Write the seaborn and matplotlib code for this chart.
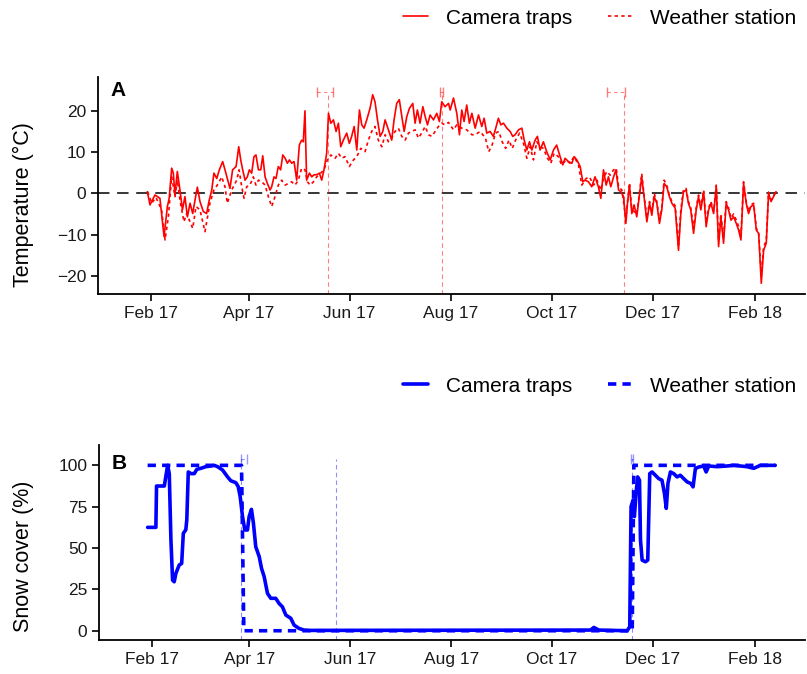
import pandas as pd
import numpy as np
import matplotlib
matplotlib.use('Agg')
import matplotlib.pyplot as plt
import seaborn as sns

# ============================================================================
# DATA (days since 2017-02-01)
# ============================================================================

cam_day = [-2.2, -0.6, 2.4, 5.4, 7.9, 9.9, 11, 12.5, 13.5, 14.5,
           15.9, 17.5, 19, 20.5, 22, 23.6, 25.2, 26.6, 28, 29.6,
           31.6, 33.6, 35.2, 36.7, 38, 39.7, 41.3, 43.3, 44.7, 46.1,
           47.7, 49.3, 51.4, 53, 54.2, 55.4, 56.8, 58.2, 59.4, 60.8,
           62.2, 63.4, 64.9, 66.3, 67.5, 68.9, 70.3, 71.9, 72.9, 74.3,
           75.5, 76.9, 78.3, 79.6, 81, 82.4, 83.6, 85, 86.4, 88,
           89.6, 91, 92, 93, 94, 95.7, 97.1, 98.5, 100.1, 101.7,
           103.1, 104.5, 106.1, 107.2, 108.6, 110.2, 111.8, 113.2, 114.6, 116.2,
           118.2, 119.8, 121.2, 122.7, 124.3, 125.9, 127.3, 128.7, 130.3, 132.3,
           133.9, 135.3, 136.8, 138.4, 140, 141.4, 143.4, 145.4, 146.8, 148.4,
           150, 151.5, 152.9, 154.5, 156.1, 158.1, 159.5, 160.9, 162.5, 164.2,
           165.6, 167, 168.6, 170.6, 172.6, 174.2, 175.6, 177.6, 179.7, 180.7,
           182.7, 184.7, 186.3, 187.7, 189.1, 190.7, 192.3, 193.8, 195.8, 197.8,
           199.8, 201.2, 202.8, 204.8, 206.8, 208.5, 209.8, 211.3, 212.9, 214.9,
           216.9, 218.5, 219.9, 222, 224, 225.4, 227, 228.6, 230, 232,
           233.4, 235, 237, 239, 241.1, 243.1, 245, 247.1, 248.7, 250.1,
           252.1, 254.2, 255.6, 257.2, 259.2, 260.8, 262.2, 264.2, 266.2, 268.2,
           270.2, 271.7, 273.3, 274.9, 276.3, 277.7, 279.4, 280.8, 282.4, 283.8,
           285.4, 286.8, 287.8, 289, 290.4, 291.8, 293.4, 295, 296.4, 297.8,
           299.5, 301.1, 302.5, 303.9, 305.5, 307.1, 308.5, 309.9, 311.5, 313.1,
           314.6, 316.6, 318.6, 320, 321.6, 323.2, 324.6, 326, 327.7, 329.3,
           330.7, 332.1, 333.8, 335.3, 336.8, 338.2, 339.8, 341.4, 342.8, 344.2,
           345.8, 347.4, 348.8, 350.3, 351.9, 353.5, 354.9, 356.3, 357.9, 359.5,
           360.9, 362.3, 364, 365.6, 367, 368.6, 370, 371.6, 373, 374.5,
           376, 377.5]
cam_temp = [0.4, -2.8, -0.4, -1.2, -10.5, -3.2, -1.2, 6.1, 4.9, -0.4,
            5.3, 0.8, -4, -0.8, -5.7, -2.4, -4.9, -1.6, 1.5, -2,
            -4.4, -4.9, -1.6, 0.8, 4.9, 3.6, 5.7, 7.7, 5.7, 3.6,
            1.2, 5.7, 6.5, 11.3, 8.1, 5.7, 3.2, 4, 5.7, 4.9,
            8.9, 9.3, 5.7, 5.7, 9.1, 4, 2.4, 0.8, 1.6, 4,
            3.6, 6.5, 5.7, 9.3, 8.5, 7.3, 8.1, 7.3, 7.7, 3.2,
            11.7, 12.9, 12.5, 20, 3.2, 4.9, 4, 4.5, 4.5, 4.9,
            3.2, 5.7, 9.7, 19.4, 17, 17.8, 15, 17, 11.3, 12.9,
            14.6, 12.1, 13.8, 16.2, 10.5, 20.2, 16.6, 15.8, 17.8, 20.6,
            23.9, 22.2, 17.8, 13.8, 15, 17.8, 15.4, 12.9, 17.8, 21.8,
            22.7, 18.6, 15, 18.6, 20.6, 21.8, 17, 20.2, 17, 21,
            18.6, 16.6, 19, 17.8, 19.4, 17.4, 22.2, 21, 21.8, 20.2,
            23.1, 19.4, 14.2, 20.2, 17.4, 21.4, 17, 19.4, 15.8, 19,
            16.2, 18.2, 14.6, 15, 13.8, 16.2, 18.2, 16.6, 17, 15.8,
            15, 13.8, 14.2, 15.4, 15.8, 12.9, 10.5, 12.5, 10.5, 12.9,
            13.8, 10.5, 12.5, 10.1, 8.1, 10.5, 11.7, 8.9, 6.9, 8.5,
            7.7, 7.3, 8.9, 8.1, 6.5, 2.8, 3.2, 2.8, 1.6, 4,
            1.6, -1.2, 5.7, 2, 4, 1.6, 4, 5.7, 0.8, 0.4,
            -0.8, -7.3, -2.4, 2, -4.9, -2.8, -5.7, -0.4, 4, -0.8,
            -6.9, -2.4, -5.3, -0.8, -2.4, -7.3, -4, 2.4, 1.6, -0.8,
            -2.4, -3.6, -13.8, -4.9, 0.4, 0.8, -2.4, -4, -9.7, -4,
            -0.8, -4, 0.4, -8.1, -4, -2.4, -4.9, 1.6, -12.9, -5.7,
            -12.1, -2.4, -4, -6.5, -5.7, -7.3, -8.9, -11.3, 2.4, -2.4,
            -4.9, -3.2, -2.8, -8.9, -9.7, -21.8, -13.8, -12.1, 0, -2,
            -0.8, 0.4]

ws_day = [-2, 0.4, 3, 6.4, 8.5, 10.5, 12.5, 14.5, 15.9, 17.5,
          19.9, 21.5, 23.6, 25.2, 27.2, 29.6, 32.6, 35.6, 38, 40.7,
          42.7, 44.7, 46.1, 48.7, 51.8, 53.2, 54.8, 56.2, 57.8, 59.8,
          61.8, 63.4, 64.9, 66.9, 68.9, 70.9, 72.9, 74.9, 76.9, 78.9,
          81, 83, 85, 87, 89, 91, 93, 94.5, 96.1, 98.1,
          100.1, 102.5, 104.5, 106.5, 108.6, 111.2, 113.2, 115.2, 117.2, 119.8,
          122.3, 124.3, 126.7, 129.3, 131.3, 133.3, 135.3, 137.3, 139.4, 141.4,
          143.4, 145.4, 147.4, 149.4, 151.5, 153.5, 155.5, 157.5, 159.5, 161.5,
          163.5, 165.6, 167.6, 169.6, 171.6, 173.6, 175.6, 177.6, 179.7, 182.7,
          184.7, 187.7, 190.7, 193.8, 195.8, 198.8, 202, 204, 206, 208.1,
          210.1, 212.1, 214.2, 216.2, 218.2, 220.2, 222.6, 225, 227, 229,
          231, 233, 235, 237, 239.5, 241.5, 243.5, 246, 248, 250.7,
          253, 255.6, 258.2, 260.2, 262.8, 264.8, 267.3, 269.3, 271.7, 273.3,
          275.3, 277.3, 279.4, 281, 282.4, 284.4, 286.8, 289, 290.4, 293.4,
          295, 296.4, 297.8, 299.5, 301.1, 302.5, 303.9, 305.5, 307.1, 308.5,
          309.9, 311.5, 313.1, 314.6, 316.6, 318.6, 320, 321.6, 323.2, 324.6,
          326, 327.7, 329.3, 330.7, 332.1, 333.8, 335.3, 336.8, 338.2, 339.8,
          341.4, 342.8, 344.2, 345.8, 347.4, 348.8, 350.3, 351.9, 353.5, 354.9,
          356.3, 357.9, 359.5, 360.9, 362.3, 364, 365.6, 367, 368.6, 370,
          371.6, 373, 374.5, 376, 377.5]
ws_temp = [0.4, -2.4, -1, -4, -11.3, -5.7, 4, -0.8, 3.2, -1.6,
           -6.9, -4.9, -6.9, -8.5, -3.2, -4, -9.3, -2.4, 0.8, 2.4,
           4, 1.6, -2.4, 0.8, 3.2, 5.7, 1.6, -1.2, 1.6, 2,
           4, 2, 3.2, 2.8, 2, -0.8, -3.2, -0.8, 2, 3.2,
           2, 2.4, 2.8, 2, 3.2, 6.1, 5.7, 2.8, 2, 2.8,
           4, 4.9, 5.7, 8.1, 9.3, 8.5, 9.7, 8.5, 8.9, 6.5,
           8.1, 8.9, 10.9, 10.1, 12.9, 15, 16.2, 12.9, 11.3, 14.2,
           12.5, 13.4, 15, 15.8, 13.8, 12.9, 14.6, 15, 15.4, 13.4,
           14.6, 16.2, 14.2, 13.8, 15, 16.2, 17, 16.6, 17.2, 15.4,
           16.6, 15.8, 15.4, 14.2, 14.2, 15, 13.4, 10.1, 11.7, 14.6,
           15, 12.5, 10.9, 12.9, 10.9, 12.9, 14.6, 12.1, 8.5, 11.3,
           8.1, 12.5, 11.3, 10.9, 8.5, 7.3, 9.7, 8.9, 6.9, 8.1,
           7.3, 8.9, 6.9, 2, 3.6, 4, 2, 3.2, 0.8, 3.6,
           5.3, 4.4, 5.7, 6.1, 1.6, 0.8, -6, 2.5, -4, -5,
           0, 4.8, -0.5, -6, -2, -4.8, 0, -2, -6.5, -3.5,
           3.2, 2, -0.5, -2, -3, -12.5, -4, 1, 1.2, -2,
           -3.5, -8.5, -3.5, -0.4, -3.5, 0.8, -7, -3.5, -2, -4.4,
           2, -11.5, -5, -11, -2, -3.5, -6, -5, -6.5, -8,
           -10.5, 2.8, -2, -4.4, -2.8, -2.4, -8.5, -9.5, -20, -13,
           -11.5, 0.3, -1.6, -0.6, 0.5]

snow_cam_day = [-2.6, 2.4, 2.8, 7.5, 9.5, 10.5, 11.5, 12.5, 13.5, 14.5,
                16.5, 18, 19, 20.5, 21.1, 22, 23.6, 25.6, 27.2, 29.6,
                32.6, 35.6, 37.7, 39.7, 42.7, 45.7, 47.7, 50.8, 52.2, 53.4,
                54.8, 56.2, 57.8, 58.8, 60.2, 61.4, 62.8, 64.9, 66.3, 67.9,
                69.9, 71.9, 74.9, 76.9, 78.9, 81, 84, 86, 89, 92,
                96, 265.3, 267.3, 270.3, 287.4, 289, 289.8, 291, 291.8, 293,
                293.8, 294.9, 295.5, 296.5, 298.5, 299.9, 301.1, 302.5, 304.5, 306.5,
                308.5, 310, 311.1, 312.1, 313.6, 315.6, 317.6, 319.6, 321.6, 323.7,
                326, 327.3, 328.7, 330.7, 333.7, 335.2, 336.8, 341.8, 347.8, 351.9,
                359.9, 364, 368, 377]
snow_cam = [62.5, 62.5, 87.5, 87.5, 100, 95, 55, 30.6, 29.6, 34.7,
            39.7, 40.7, 58.9, 61, 67, 96, 95, 95, 97.6, 98.2,
            99.2, 99.6, 100, 99.2, 97.2, 93.1, 90.7, 89.5, 87.1, 81,
            69, 60.9, 60.9, 69, 73.4, 65, 50.8, 44.8, 37.7, 32.7,
            22.6, 19.6, 19.6, 16.5, 14.5, 9.5, 7.5, 3.4, 1.4, 0.4,
            0.2, 0.4, 2, 0.4, 0, 2.4, 75, 79, 69, 85,
            93, 91, 54.8, 42.7, 41.7, 42.7, 95, 96, 94, 92,
            91, 83, 74, 89, 96, 95, 93, 94, 92, 90,
            89, 87, 98, 99, 99.6, 96, 99.6, 99.2, 99.6, 100,
            99.2, 98.2, 100, 100]

snow_ws_day = [-2.6, 54.2, 55.6, 290.5, 291.5, 377]
snow_ws = [100, 100, 0, 0, 100, 100]

# dashed reference dates and their ranges (days)
temp_mark = [107, 175.6, 285.6]
temp_lo = [6.9, 0.8, 10.1]
temp_hi = [3.2, 0.8, 0.6]
snow_mark = [54, 111.2, 290.4]
snow_lo = [0.3, 0.0, 0.5]
snow_hi = [3.4, 0.0, 0.8]

start = pd.Timestamp('2017-02-01')


def to_dates(days):
    return start + pd.to_timedelta(np.array(days, dtype=float), unit='D')


temp_df = pd.concat([
    pd.DataFrame({'date': to_dates(cam_day), 'value': cam_temp, 'source': 'Camera traps'}),
    pd.DataFrame({'date': to_dates(ws_day), 'value': ws_temp, 'source': 'Weather station'}),
])
snow_df = pd.concat([
    pd.DataFrame({'date': to_dates(snow_cam_day), 'value': snow_cam, 'source': 'Camera traps'}),
    pd.DataFrame({'date': to_dates(snow_ws_day), 'value': snow_ws, 'source': 'Weather station'}),
])

# ============================================================================
# PLOT
# ============================================================================

sns.set_theme(style='ticks')
plt.rcParams['font.family'] = ['Liberation Sans', 'DejaVu Sans']
plt.rcParams['text.color'] = 'black'
plt.rcParams['axes.labelcolor'] = 'black'

W, H = 807, 674
fig = plt.figure(figsize=(W / 100, H / 100), dpi=100)


def px_axes(left, top, right, bottom):
    return fig.add_axes([left / W, 1 - bottom / H, (right - left) / W, (bottom - top) / H])


axA = px_axes(98, 77, 805, 294)
axB = px_axes(99, 445, 805, 640)

xlim = (start + pd.Timedelta(days=-32), start + pd.Timedelta(days=395))
ticks = pd.date_range('2017-02-01', '2018-02-01', freq='2MS')

red = '#FF0000'
blue = '#0000FF'


def draw_ranges(ax, mark, lo, hi, y, color, alpha):
    # horizontal ranges with caps, only where they have a width
    d = to_dates(mark)
    keep = [i for i in range(len(mark)) if lo[i] + hi[i] > 0]
    eb = ax.errorbar(d[keep], [y] * len(keep),
                     xerr=[pd.to_timedelta([lo[i] for i in keep], unit='D'),
                           pd.to_timedelta([hi[i] for i in keep], unit='D')],
                     fmt='none', ecolor=color, alpha=alpha, elinewidth=0.8, capsize=3.5)
    eb[2][0].set_linestyle((0, (3, 3)))


# --- Panel A ---
sns.lineplot(data=temp_df, x='date', y='value', style='source', color=red,
             dashes={'Camera traps': '', 'Weather station': (2, 2)},
             estimator=None, sort=True, linewidth=1.2, ax=axA)
axA.axhline(0, color='black', lw=1.1, dashes=(7.5, 5), zorder=1)
axA.vlines(to_dates(temp_mark), -24.4, 24.5, colors=red, alpha=0.5, lw=0.8,
           linestyles=(0, (4, 3)))
draw_ranges(axA, temp_mark, temp_lo, temp_hi, 24.5, red, 0.5)
axA.set_ylim(-24.4, 28.2)
axA.set_yticks([-20, -10, 0, 10, 20])
axA.set_ylabel('Temperature (°C)', fontsize=15.5)
axA.yaxis.set_label_coords(-0.091, 0.41)
axA.text(0.018, 0.94, 'A', transform=axA.transAxes, fontsize=15, fontweight='bold',
         color='black', va='center', ha='left')

# --- Panel B ---
sns.lineplot(data=snow_df, x='date', y='value', style='source', color=blue,
             dashes={'Camera traps': '', 'Weather station': (2.3, 1.7)},
             estimator=None, sort=True, linewidth=2.6, ax=axB)
axB.vlines(to_dates(snow_mark), -5.6, 104, colors=blue, alpha=0.45, lw=0.8,
           linestyles=(0, (4, 3)))
draw_ranges(axB, snow_mark, snow_lo, snow_hi, 104, blue, 0.4)
axB.set_ylim(-5.6, 112.3)
axB.set_yticks([0, 25, 50, 75, 100])
axB.set_ylabel('Snow cover (%)', fontsize=15.5)
axB.yaxis.set_label_coords(-0.092, 0.43)
axB.text(0.018, 0.905, 'B', transform=axB.transAxes, fontsize=15, fontweight='bold',
         color='black', va='center', ha='left')

for ax, ly in [(axA, 1 - 18 / H), (axB, 1 - 386 / H)]:
    ax.set_xlim(*xlim)
    ax.set_xticks(ticks)
    ax.set_xticklabels([d.strftime('%b %y') for d in ticks])
    ax.set_xlabel('')
    ax.tick_params(axis='both', labelsize=12.5, colors='black', length=5, width=1.2,
                   labelcolor='#1a1a1a')
    for s in ['left', 'bottom']:
        ax.spines[s].set_linewidth(1.3)
        ax.spines[s].set_color('black')
    sns.despine(ax=ax)
    sns.move_legend(ax, loc='center', bbox_to_anchor=(600 / W, ly),
                    bbox_transform=fig.transFigure, ncol=2, frameon=False, title=None,
                    fontsize=15, handlelength=1.2, handletextpad=0.85, columnspacing=1.7)

fig.savefig('out.png', dpi=100)
